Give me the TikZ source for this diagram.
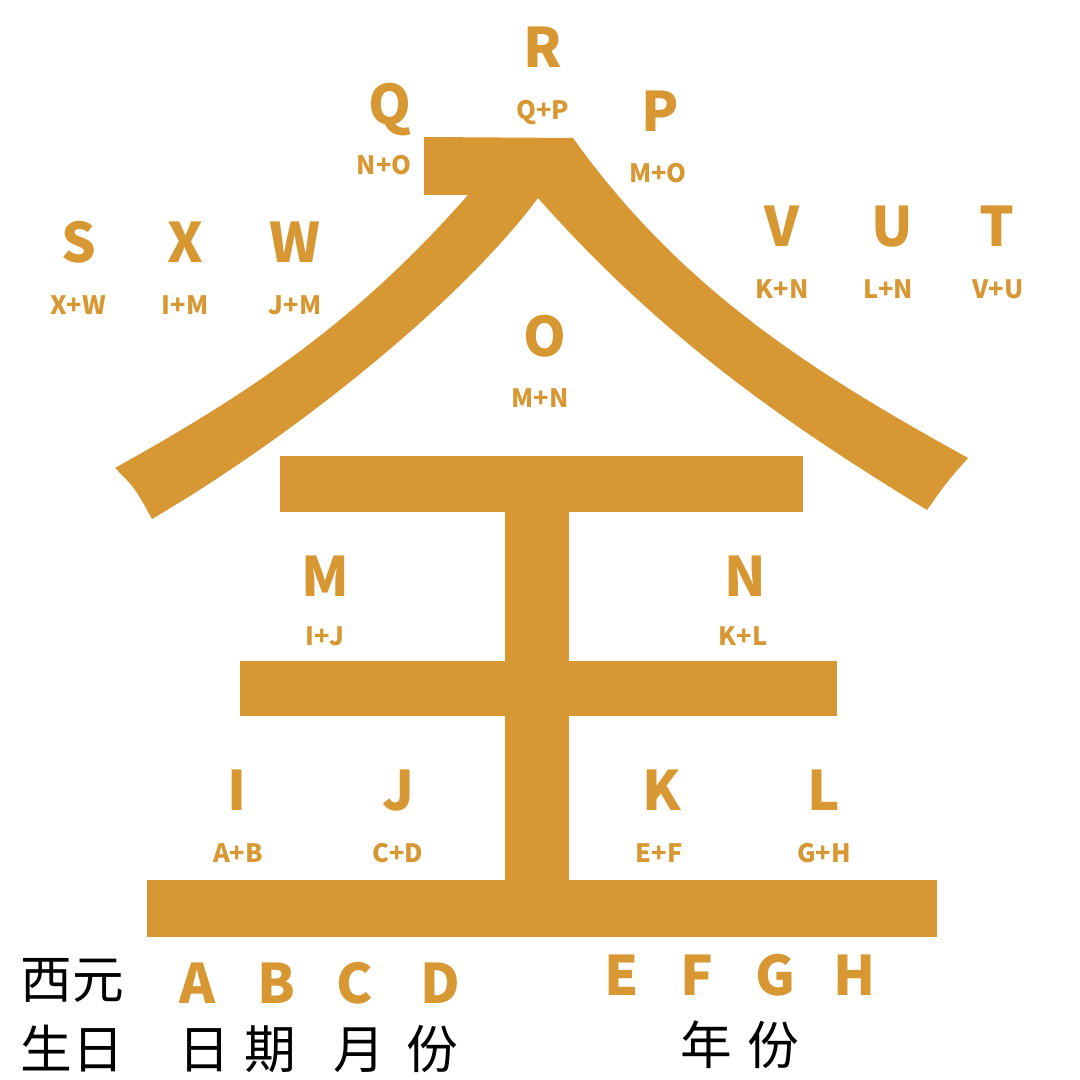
\documentclass[tikz,border=0pt]{standalone}
\usepackage{fontspec}
\newfontfamily\cjk{Noto Sans CJK SC}
\definecolor{gold}{RGB}{215,152,52}
\tikzset{
  big/.style={gold, anchor=base, inner sep=0pt, font=\cjk\bfseries\fontsize{15.5}{18}\selectfont},
  sum/.style={gold, anchor=base, inner sep=0pt, font=\cjk\bfseries\fontsize{7.2}{9}\selectfont},
  cn/.style={black, anchor=base, inner sep=0pt, font=\cjk\fontsize{14.7}{17}\selectfont}
}
\begin{document}
\begin{tikzpicture}[x=0.01cm, y=-0.01cm]
  \useasboundingbox (0,0) rectangle (1080,1080);
  \fill[gold] (424,137) -- (573,138)
    .. controls (683,292) and (818,375) .. (968,458)
    .. controls (946,483) .. (927,510)
    .. controls (800,432) and (668,345) .. (538,198)
    .. controls (462,300) and (300,432) .. (152,519)
    .. controls (135,488) .. (115,468)
    .. controls (255,390) and (358,320) .. (468,195)
    -- (424,195) -- cycle;
  \fill[gold] (280,456) rectangle (803,512);
  \fill[gold] (240,661) rectangle (837,716);
  \fill[gold] (147,880) rectangle (937,937);
  \fill[gold] (505,512) rectangle (569,880);
  \node[big] (R) at (543,68) {R};
  \node[sum] (RS) at (543,120) {Q+P};
  \node[big] (Q) at (390,125) {Q};
  \node[sum] (QS) at (384,175) {N+O};
  \node[big] (P) at (660,132) {P};
  \node[sum] (PS) at (658,183) {M+O};
  \node[big] (S) at (79,263) {S};
  \node[sum] (SS) at (78,315) {X+W};
  \node[big] (X) at (185,263) {X};
  \node[sum] (XS) at (185,315) {I+M};
  \node[big] (W) at (295,263) {W};
  \node[sum] (WS) at (295,315) {J+M};
  \node[big] (V) at (782,247) {V};
  \node[sum] (VS) at (782,299) {K+N};
  \node[big] (U) at (892,247) {U};
  \node[sum] (US) at (888,299) {L+N};
  \node[big] (T) at (997,247) {T};
  \node[sum] (TS) at (998,299) {V+U};
  \node[big] (O) at (545,357) {O};
  \node[sum] (OS) at (540,408) {M+N};
  \node[big] (M) at (325,596) {M};
  \node[sum] (MS) at (325,645) {I+J};
  \node[big] (N) at (745,596) {N};
  \node[sum] (NS) at (743,645) {K+L};
  \node[big] (I) at (237,810) {I};
  \node[sum] (IS) at (238,862) {A+B};
  \node[big] (J) at (398,810) {J};
  \node[sum] (JS) at (398,862) {C+D};
  \node[big] (K) at (662,810) {K};
  \node[sum] (KS) at (659,862) {E+F};
  \node[big] (L) at (824,810) {L};
  \node[sum] (LS) at (824,862) {G+H};
  \node[big] (A) at (197,1003) {A};
  \node[big] (B) at (276,1003) {B};
  \node[big] (C) at (355,1003) {C};
  \node[big] (D) at (440,1003) {D};
  \node[big] (E) at (622,995) {E};
  \node[big] (F) at (697,995) {F};
  \node[big] (G) at (775,995) {G};
  \node[big] (H) at (855,995) {H};
  \node[cn] (xiyuan) at (72,998) {西元};
  \node[cn] (shengri) at (72,1068) {生日};
  \node[cn] (ri) at (204,1068) {日};
  \node[cn] (qi) at (270,1068) {期};
  \node[cn] (yue) at (359,1068) {月};
  \node[cn] (fen) at (432,1068) {份};
  \node[cn] (nian) at (706,1064) {年};
  \node[cn] (fen2) at (773,1064) {份};
\end{tikzpicture}
\end{document}
